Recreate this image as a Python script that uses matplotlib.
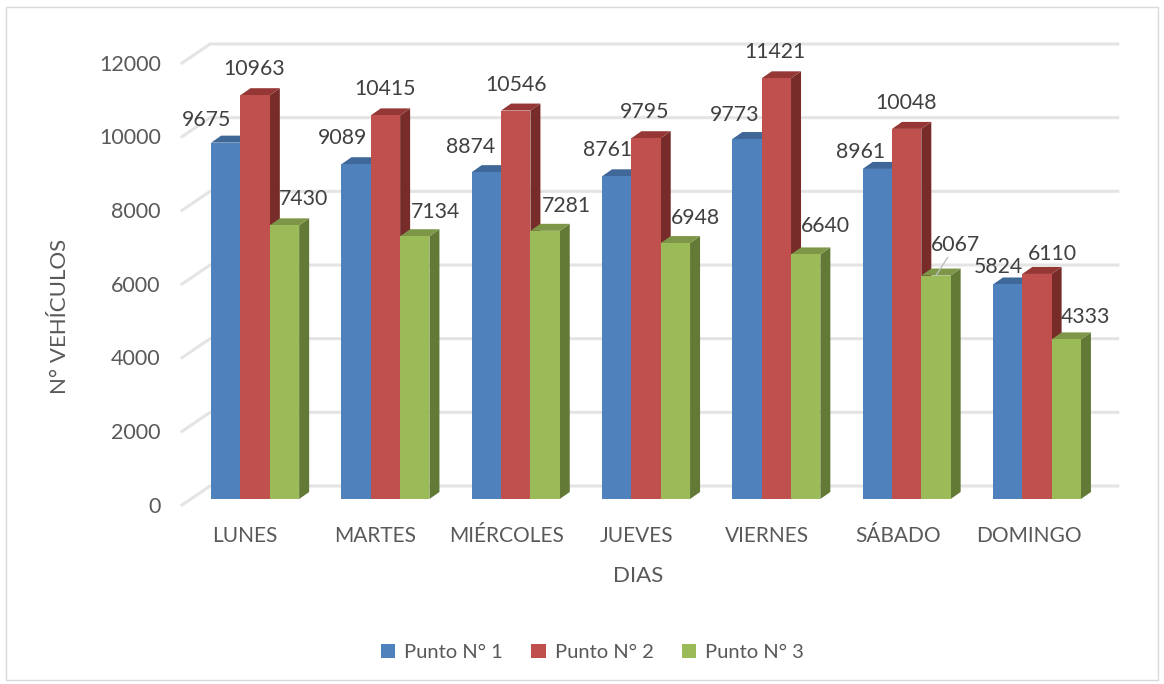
import matplotlib.pyplot as plt
from matplotlib.patches import Polygon, Patch, Rectangle

plt.rcParams['font.family'] = ['Lato', 'DejaVu Sans']

# Datos
dias = ['LUNES', 'MARTES', 'MIÉRCOLES', 'JUEVES', 'VIERNES', 'SÁBADO', 'DOMINGO']
punto1 = [9675, 9089, 8874, 8761, 9773, 8961, 5824]
punto2 = [10963, 10415, 10546, 9795, 11421, 10048, 6110]
punto3 = [7430, 7134, 7281, 6948, 6640, 6067, 4333]
nombres = ['Punto N° 1', 'Punto N° 2', 'Punto N° 3']
ticks_y = [0, 2000, 4000, 6000, 8000, 10000, 12000]

# desplazamiento de cada etiqueta respecto a su barra (pixeles)
offset1 = [(-19, 23), (-14, 26), (-16, 25), (-9, 26), (-12, 24), (-17, 17), (-9, 17)]
offset2 = [(-1, 26), (0, 26), (0, 26), (-1, 26), (-1, 26), (-1, 26), (15, 20)]
offset3 = [(19, 26), (21, 24), (21, 25), (20, 25), (20, 28), (20, 31), (19, 22)]

# colores: frente, lado, tapa
colores = [('#4F81BD', '#385D8A', '#3F6797'),
           ('#C0504D', '#772C2A', '#953735'),
           ('#9BBB59', '#637A37', '#7D9647')]
series = [punto1, punto2, punto3]
offsets = [offset1, offset2, offset3]

W, H = 1164, 684
fig = plt.figure(figsize=(W / 100, H / 100), dpi=100)

# borde del grafico
fig.patches.append(Rectangle((6 / W, 1 - 680 / H), 1152 / W, 673 / H, transform=fig.transFigure,
                             fill=False, edgecolor='#D9D9D9', linewidth=1))

# ejes: el 0 cae en y=499 px y 12000 en y=57 px (ylim baja un poco para que entre el tick del 0)
ax = fig.add_axes([190 / W, 1 - 506.37 / H, 912.1 / W, 449.37 / H])
for s in ax.spines.values():
    s.set_visible(False)

ancho = 0.2251
prof_x = 0.0768
prof_y = 190

# lineas de la pared y del costado
for v in ticks_y:
    ax.plot([-0.561, -0.346, 6.62], [v - 163, v + 353, v + 353], color='#E4E4E4', lw=2.2,
            clip_on=False, zorder=1, solid_joinstyle='round')

# barras con falsa perspectiva
for i in range(len(dias)):
    for j, serie in enumerate(series):
        v = serie[i]
        x0 = i - 1.5 * ancho + j * ancho
        x1 = x0 + ancho
        frente, lado, tapa = colores[j]
        ax.add_patch(Polygon([(x1, 0), (x1 + prof_x, prof_y), (x1 + prof_x, v + prof_y), (x1, v)],
                             facecolor=lado, edgecolor='none', zorder=2 + j, clip_on=False))
        ax.add_patch(Polygon([(x0, v), (x0 + prof_x, v + prof_y), (x1 + prof_x, v + prof_y), (x1, v)],
                             facecolor=tapa, edgecolor='none', zorder=2 + j, clip_on=False))
        ax.add_patch(Rectangle((x0, 0), ancho, v, facecolor=frente, edgecolor='none',
                               zorder=2 + j, clip_on=False))

# etiquetas de datos
for j, serie in enumerate(series):
    for i, v in enumerate(serie):
        x = i - ancho + j * ancho
        props = None
        if v == 6067:
            props = dict(arrowstyle='-', color='#BFBFBF', lw=1, shrinkA=0, shrinkB=0)
        ax.annotate(str(v), xy=(x, v), xytext=offsets[j][i], textcoords='offset pixels',
                    ha='center', va='center', fontsize=15.3, color='#404040',
                    zorder=10, annotation_clip=False, arrowprops=props)

# ticks
ax.set_yticks([v - 150 for v in ticks_y])
ax.set_yticklabels([str(v) for v in ticks_y], fontsize=15.5, color='#595959')
ax.set_xticks([i * 1.003 - 0.08 for i in range(len(dias))])
ax.set_xticklabels(dias, fontsize=15, color='#595959')
ax.tick_params(axis='y', length=0, pad=21)
ax.tick_params(axis='x', length=0, pad=14.4)
ax.set_xlim(-0.5, 6.5)
ax.set_ylim(-200, 12000)

fig.text(638 / W, 1 - 576 / H, 'DIAS', ha='center', va='center', fontsize=16, color='#595959')
fig.text(60 / W, 1 - 316 / H, 'N° VEHÍCULOS', ha='center', va='center', rotation=90,
         fontsize=16, color='#595959')

handles = [Patch(facecolor=c[0], label=n) for c, n in zip(colores, nombres)]
fig.legend(handles=handles, loc='center', bbox_to_anchor=(592.5 / W, 1 - 652.5 / H), ncol=3, frameon=False,
           fontsize=14.5, labelcolor='#595959', handlelength=0.7, handleheight=0.7,
           handletextpad=0.45, columnspacing=1.4)

fig.savefig('out.png', dpi=100)
